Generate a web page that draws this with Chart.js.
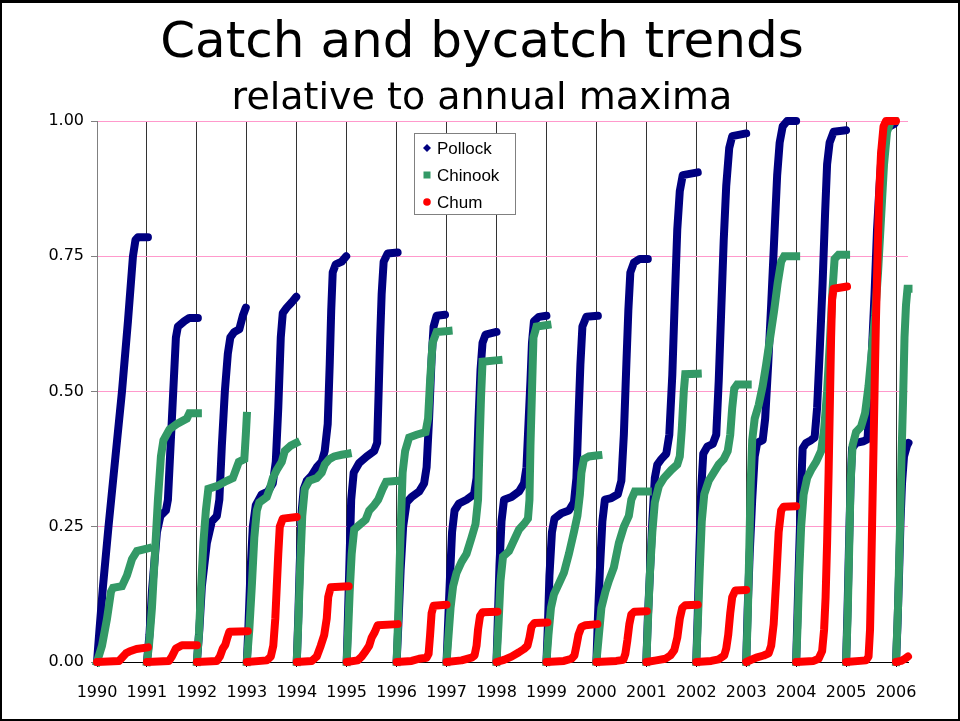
<!DOCTYPE html>
<html>
<head>
<meta charset="utf-8">
<script src="https://cdn.jsdelivr.net/npm/chart.js@4.4.1/dist/chart.umd.min.js"></script>
<style>
  body { margin: 0; background: #fff; }
  #page { position: relative; width: 960px; height: 721px; overflow: hidden; }
  #frame { position: absolute; left: 0; top: 0; width: 960px; height: 721px; box-sizing: border-box;
           border: 2px solid #000; border-top-width: 3px; pointer-events: none; }
  .title { position: absolute; left: 0; width: 960px; text-align: center; color: #000;
           font-family: "Comic Sans MS", "DejaVu Sans", sans-serif; white-space: nowrap; }
  #t1 { top: 10px; left: 2px; font-size: 50px; line-height: 60px; }
  #t2 { top: 74px; left: 2px; font-size: 38px; line-height: 44px; }
  canvas { position: absolute; left: 0; top: 0; }
</style>
</head>
<body>
<div id="page">
  <canvas id="trendChart" width="960" height="721"></canvas>
  <div class="title" id="t1">Catch and bycatch trends</div>
  <div class="title" id="t2">relative to annual maxima</div>
  <div id="frame"></div>
</div>
<script>
// tick labels / categories
const years = [1990, 1991, 1992, 1993, 1994, 1995, 1996, 1997, 1998, 1999, 2000, 2001, 2002, 2003, 2004, 2005, 2006];
const yTicks = [0, 0.25, 0.5, 0.75, 1];
const seriesNames = ['Pollock', 'Chinook', 'Chum'];

// each year: [fraction of year, value relative to annual maximum]
const pollock = [
  [[0,0],[0.05,0.06],[0.12,0.14],[0.23,0.25],[0.37,0.38],[0.5,0.5],[0.62,0.63],[0.72,0.75],[0.77,0.78],[0.82,0.785],[1.02,0.785]],
  [[0,0],[0.05,0.05],[0.1,0.13],[0.2,0.24],[0.27,0.27],[0.38,0.28],[0.42,0.3],[0.5,0.45],[0.58,0.6],[0.62,0.62],[0.75,0.63],[0.85,0.636],[1.02,0.636]],
  [[0,0],[0.05,0.06],[0.1,0.14],[0.2,0.22],[0.3,0.26],[0.4,0.27],[0.45,0.3],[0.5,0.4],[0.56,0.5],[0.62,0.57],[0.67,0.6],[0.75,0.61],[0.85,0.615],[0.92,0.64],[0.98,0.655]],
  [[0,0],[0.03,0.06],[0.07,0.16],[0.12,0.25],[0.18,0.29],[0.3,0.31],[0.42,0.315],[0.52,0.33],[0.58,0.37],[0.63,0.47],[0.68,0.6],[0.72,0.645],[0.8,0.655],[0.9,0.665],[0.99,0.675]],
  [[0,0],[0.03,0.08],[0.06,0.18],[0.1,0.28],[0.14,0.32],[0.2,0.335],[0.3,0.345],[0.4,0.36],[0.5,0.37],[0.56,0.39],[0.62,0.44],[0.66,0.55],[0.69,0.65],[0.72,0.72],[0.78,0.735],[0.9,0.74],[0.99,0.75]],
  [[0,0],[0.03,0.1],[0.06,0.2],[0.09,0.3],[0.14,0.35],[0.25,0.368],[0.4,0.38],[0.55,0.39],[0.61,0.405],[0.64,0.5],[0.67,0.6],[0.7,0.68],[0.74,0.74],[0.82,0.755],[1.02,0.757]],
  [[0,0],[0.04,0.08],[0.08,0.17],[0.13,0.25],[0.2,0.295],[0.3,0.305],[0.45,0.315],[0.55,0.33],[0.6,0.36],[0.65,0.45],[0.7,0.56],[0.74,0.62],[0.8,0.64],[0.97,0.642]],
  [[0,0],[0.03,0.07],[0.07,0.16],[0.11,0.24],[0.16,0.28],[0.25,0.293],[0.4,0.3],[0.55,0.31],[0.6,0.34],[0.64,0.45],[0.68,0.54],[0.72,0.59],[0.78,0.605],[1.0,0.61]],
  [[0,0],[0.03,0.09],[0.06,0.18],[0.1,0.26],[0.15,0.3],[0.3,0.305],[0.45,0.315],[0.55,0.33],[0.6,0.36],[0.64,0.44],[0.68,0.52],[0.71,0.59],[0.75,0.63],[0.85,0.638],[1.0,0.64]],
  [[0,0],[0.03,0.07],[0.06,0.16],[0.11,0.24],[0.16,0.265],[0.3,0.275],[0.45,0.28],[0.55,0.295],[0.6,0.34],[0.64,0.45],[0.68,0.55],[0.72,0.62],[0.8,0.638],[1.03,0.64]],
  [[0,0],[0.03,0.08],[0.07,0.17],[0.12,0.26],[0.17,0.3],[0.3,0.303],[0.43,0.31],[0.5,0.335],[0.55,0.42],[0.6,0.55],[0.64,0.65],[0.68,0.72],[0.75,0.738],[0.87,0.745],[1.03,0.745]],
  [[0,0],[0.03,0.08],[0.07,0.16],[0.12,0.26],[0.17,0.34],[0.22,0.365],[0.3,0.375],[0.4,0.385],[0.46,0.42],[0.52,0.53],[0.57,0.67],[0.62,0.8],[0.67,0.87],[0.73,0.9],[1.03,0.905]],
  [[0,0],[0.03,0.09],[0.06,0.2],[0.1,0.32],[0.14,0.385],[0.22,0.398],[0.33,0.403],[0.4,0.42],[0.45,0.52],[0.5,0.65],[0.55,0.78],[0.6,0.88],[0.66,0.95],[0.72,0.972],[1.0,0.977]],
  [[0,0],[0.03,0.1],[0.07,0.2],[0.12,0.3],[0.17,0.38],[0.22,0.405],[0.33,0.41],[0.38,0.45],[0.44,0.55],[0.5,0.66],[0.56,0.78],[0.62,0.9],[0.67,0.96],[0.73,0.99],[0.82,1.0],[1.0,1.0]],
  [[0,0],[0.03,0.1],[0.06,0.2],[0.1,0.32],[0.13,0.395],[0.2,0.405],[0.3,0.41],[0.37,0.415],[0.42,0.47],[0.47,0.57],[0.53,0.7],[0.58,0.83],[0.62,0.92],[0.67,0.96],[0.75,0.98],[1.0,0.983]],
  [[0,0],[0.03,0.1],[0.06,0.22],[0.09,0.33],[0.12,0.395],[0.2,0.405],[0.35,0.408],[0.43,0.412],[0.47,0.48],[0.52,0.58],[0.57,0.68],[0.62,0.8],[0.67,0.88],[0.72,0.95],[0.78,0.985],[0.97,0.995]],
  [[0,0],[0.03,0.07],[0.06,0.16],[0.09,0.26],[0.12,0.33],[0.16,0.38],[0.22,0.4],[0.25,0.405]]
];

const chinook = [
  [[0,0],[0.1,0.03],[0.2,0.08],[0.28,0.13],[0.32,0.137],[0.5,0.14],[0.6,0.16],[0.7,0.19],[0.8,0.205],[1.02,0.21]],
  [[0,0],[0.04,0.03],[0.1,0.1],[0.16,0.2],[0.22,0.3],[0.28,0.38],[0.33,0.41],[0.45,0.43],[0.6,0.44],[0.8,0.45],[0.85,0.46],[1.02,0.46]],
  [[0,0],[0.04,0.05],[0.08,0.13],[0.13,0.22],[0.18,0.28],[0.23,0.32],[0.4,0.325],[0.6,0.335],[0.72,0.34],[0.8,0.36],[0.84,0.37],[0.95,0.375],[0.98,0.42],[1.0,0.455]],
  [[0,0],[0.05,0.06],[0.1,0.14],[0.15,0.23],[0.2,0.28],[0.25,0.295],[0.4,0.305],[0.46,0.32],[0.52,0.34],[0.6,0.355],[0.7,0.37],[0.76,0.39],[0.88,0.4],[0.99,0.405]],
  [[0,0],[0.03,0.07],[0.07,0.18],[0.11,0.27],[0.16,0.32],[0.25,0.335],[0.4,0.34],[0.5,0.35],[0.56,0.365],[0.65,0.375],[0.75,0.38],[0.9,0.383],[1.02,0.385]],
  [[0,0],[0.03,0.06],[0.06,0.13],[0.1,0.2],[0.15,0.245],[0.25,0.253],[0.38,0.263],[0.45,0.28],[0.55,0.29],[0.63,0.3],[0.72,0.32],[0.79,0.333],[1.04,0.335]],
  [[0,0],[0.03,0.08],[0.06,0.18],[0.09,0.27],[0.12,0.35],[0.17,0.39],[0.25,0.415],[0.4,0.42],[0.58,0.425],[0.63,0.45],[0.67,0.52],[0.72,0.59],[0.8,0.61],[1.04,0.612]],
  [[0,0],[0.04,0.05],[0.08,0.1],[0.13,0.14],[0.2,0.165],[0.3,0.185],[0.4,0.2],[0.5,0.23],[0.58,0.255],[0.63,0.3],[0.66,0.4],[0.69,0.49],[0.72,0.555],[1.04,0.558]],
  [[0,0],[0.04,0.07],[0.08,0.15],[0.13,0.195],[0.25,0.205],[0.35,0.225],[0.45,0.245],[0.55,0.255],[0.63,0.265],[0.66,0.3],[0.68,0.4],[0.71,0.5],[0.74,0.6],[0.8,0.62],[1.02,0.623]],
  [[0,0],[0.04,0.05],[0.09,0.1],[0.15,0.125],[0.25,0.145],[0.35,0.165],[0.45,0.2],[0.55,0.24],[0.62,0.27],[0.67,0.31],[0.7,0.35],[0.75,0.375],[0.85,0.38],[1.04,0.382]],
  [[0,0],[0.04,0.04],[0.1,0.1],[0.18,0.13],[0.25,0.15],[0.35,0.175],[0.45,0.22],[0.55,0.25],[0.65,0.27],[0.7,0.3],[0.77,0.315],[1.03,0.315]],
  [[0,0],[0.03,0.07],[0.07,0.16],[0.12,0.24],[0.17,0.295],[0.25,0.325],[0.35,0.34],[0.5,0.355],[0.62,0.365],[0.67,0.38],[0.71,0.43],[0.75,0.5],[0.78,0.532],[1.03,0.533]],
  [[0,0],[0.03,0.07],[0.07,0.17],[0.11,0.26],[0.16,0.31],[0.25,0.335],[0.35,0.35],[0.45,0.365],[0.55,0.375],[0.63,0.39],[0.68,0.42],[0.72,0.47],[0.76,0.505],[0.82,0.513],[1.03,0.513]],
  [[0,0],[0.03,0.08],[0.06,0.2],[0.09,0.33],[0.12,0.41],[0.17,0.45],[0.25,0.475],[0.33,0.51],[0.4,0.55],[0.48,0.6],[0.56,0.65],[0.63,0.7],[0.7,0.74],[0.76,0.75],[1.0,0.75]],
  [[0,0],[0.03,0.07],[0.06,0.16],[0.1,0.25],[0.15,0.31],[0.22,0.34],[0.3,0.355],[0.4,0.37],[0.5,0.39],[0.56,0.43],[0.62,0.5],[0.68,0.6],[0.73,0.69],[0.77,0.745],[0.85,0.753],[1.0,0.753]],
  [[0,0],[0.03,0.08],[0.06,0.2],[0.09,0.33],[0.13,0.4],[0.2,0.425],[0.3,0.435],[0.38,0.46],[0.45,0.51],[0.52,0.58],[0.58,0.64],[0.64,0.72],[0.7,0.82],[0.76,0.92],[0.82,0.98],[0.9,1.0],[0.97,1.0]],
  [[0,0],[0.04,0.1],[0.08,0.25],[0.11,0.38],[0.14,0.48],[0.17,0.6],[0.2,0.66],[0.23,0.69],[0.25,0.69]]
];

const chum = [
  [[0,0],[0.44,0.002],[0.5,0.008],[0.58,0.016],[0.66,0.02],[0.79,0.024],[1.02,0.027]],
  [[0,0],[0.44,0.002],[0.5,0.01],[0.58,0.025],[0.7,0.031],[1.0,0.031]],
  [[0,0],[0.4,0.002],[0.46,0.01],[0.52,0.025],[0.57,0.032],[0.61,0.045],[0.65,0.056],[1.02,0.057]],
  [[0,0],[0.4,0.003],[0.48,0.01],[0.53,0.03],[0.57,0.08],[0.6,0.14],[0.63,0.2],[0.66,0.25],[0.72,0.265],[1.0,0.268]],
  [[0,0],[0.3,0.002],[0.4,0.01],[0.48,0.03],[0.55,0.05],[0.6,0.08],[0.63,0.12],[0.68,0.138],[1.04,0.14]],
  [[0,0],[0.22,0.003],[0.3,0.01],[0.38,0.02],[0.45,0.03],[0.5,0.045],[0.56,0.055],[0.62,0.068],[1.02,0.07]],
  [[0,0],[0.3,0.002],[0.45,0.006],[0.6,0.008],[0.64,0.015],[0.67,0.05],[0.7,0.09],[0.74,0.104],[1.0,0.106]],
  [[0,0],[0.3,0.003],[0.5,0.008],[0.56,0.012],[0.6,0.03],[0.63,0.06],[0.67,0.085],[0.72,0.092],[1.02,0.093]],
  [[0,0],[0.15,0.004],[0.3,0.01],[0.45,0.018],[0.55,0.024],[0.62,0.03],[0.66,0.045],[0.7,0.065],[0.76,0.072],[1.02,0.073]],
  [[0,0],[0.35,0.002],[0.5,0.006],[0.56,0.012],[0.6,0.03],[0.64,0.05],[0.7,0.065],[0.78,0.068],[1.02,0.07]],
  [[0,0],[0.4,0.002],[0.54,0.004],[0.58,0.015],[0.62,0.04],[0.66,0.07],[0.7,0.088],[0.76,0.093],[1.01,0.094]],
  [[0,0],[0.2,0.003],[0.38,0.006],[0.48,0.012],[0.56,0.022],[0.62,0.045],[0.67,0.08],[0.72,0.1],[0.78,0.105],[1.03,0.106]],
  [[0,0],[0.3,0.002],[0.45,0.005],[0.56,0.012],[0.6,0.025],[0.64,0.05],[0.68,0.09],[0.72,0.12],[0.78,0.132],[1.0,0.133]],
  [[0,0],[0.2,0.008],[0.35,0.012],[0.45,0.016],[0.5,0.03],[0.55,0.07],[0.6,0.15],[0.65,0.24],[0.7,0.28],[0.75,0.287],[1.0,0.288]],
  [[0,0],[0.35,0.002],[0.45,0.006],[0.52,0.02],[0.56,0.06],[0.59,0.12],[0.62,0.22],[0.65,0.35],[0.68,0.5],[0.7,0.6],[0.72,0.67],[0.75,0.69],[1.02,0.694]],
  [[0,0],[0.4,0.003],[0.45,0.01],[0.48,0.06],[0.5,0.15],[0.52,0.25],[0.54,0.35],[0.56,0.45],[0.58,0.55],[0.6,0.64],[0.63,0.75],[0.66,0.86],[0.7,0.94],[0.75,0.99],[0.8,1.0],[1.0,1.0]],
  [[0,0],[0.1,0.002],[0.18,0.006],[0.24,0.01]]
];

document.addEventListener('DOMContentLoaded', function() {
    const ctx = document.getElementById('trendChart');

    // one line per year, broken with a null point between years
    function toPoints(segments) {
        const pts = [];
        segments.forEach((seg, i) => {
            seg.forEach(p => pts.push({ x: years[i] + p[0], y: p[1] }));
            pts.push({ x: years[i] + seg[seg.length - 1][0], y: null });
        });
        return pts;
    }

    const markers = ['rectRot', 'rect', 'circle'];
    const colors = ['#000080', '#339966', '#ff0000'];

    // legend box drawn inside the plot, like the original
    const legendBox = {
        id: 'legendBox',
        afterDraw(chart) {
            const c = chart.ctx;
            c.save();
            c.fillStyle = '#fff';
            c.fillRect(414.5, 133.5, 101, 81);
            c.strokeStyle = '#808080';
            c.lineWidth = 1;
            c.strokeRect(414.5, 133.5, 101, 81);
            const rows = [148, 175, 202];
            seriesNames.forEach((name, i) => {
                const y = rows[i];
                c.fillStyle = colors[i];
                if (markers[i] === 'rectRot') {
                    c.beginPath();
                    c.moveTo(427, y - 4); c.lineTo(431, y); c.lineTo(427, y + 4); c.lineTo(423, y);
                    c.closePath(); c.fill();
                } else if (markers[i] === 'rect') {
                    c.fillRect(423.5, y - 3.5, 7, 7);
                } else {
                    c.beginPath(); c.arc(427, y, 3.8, 0, Math.PI * 2); c.fill();
                }
                c.fillStyle = '#000';
                c.font = '17px "Liberation Sans", Arial, sans-serif';
                c.textBaseline = 'middle';
                c.fillText(name, 437, y + 1);
            });
            c.restore();
        }
    };

    const chartData = {
        datasets: [
            {
                label: seriesNames[0],
                data: toPoints(pollock),
                borderColor: colors[0],
                backgroundColor: colors[0],
                borderWidth: 8,
                borderCapStyle: 'round',
                borderJoinStyle: 'round',
                pointRadius: 0,
                order: 3
            },
            {
                label: seriesNames[1],
                data: toPoints(chinook),
                borderColor: colors[1],
                backgroundColor: colors[1],
                borderWidth: 8,
                borderCapStyle: 'square',
                borderJoinStyle: 'miter',
                pointRadius: 0,
                order: 2
            },
            {
                label: seriesNames[2],
                data: toPoints(chum),
                borderColor: colors[2],
                backgroundColor: colors[2],
                borderWidth: 8,
                borderCapStyle: 'round',
                borderJoinStyle: 'round',
                pointRadius: 0,
                order: 1
            }
        ]
    };

    new Chart(ctx, {
        type: 'line',
        data: chartData,
        plugins: [legendBox],
        options: {
            responsive: false,
            animation: false,
            events: [],
            spanGaps: false,
            clip: false,
            layout: { padding: { top: 121, left: 0, right: 52, bottom: 0 } },
            elements: { line: { tension: 0 } },
            plugins: {
                legend: { display: false },
                tooltip: { enabled: false },
                title: { display: false }
            },
            scales: {
                x: {
                    type: 'linear',
                    min: 1990,
                    max: 2006.24,
                    afterFit: s => { s.height = 59; },
                    afterBuildTicks: s => { s.ticks = years.map(v => ({ value: v })); },
                    grid: { color: '#333', lineWidth: 1, tickLength: 5, tickColor: '#000' },
                    border: { color: '#000', width: 1 },
                    ticks: {
                        autoSkip: false,
                        maxRotation: 0,
                        padding: 16,
                        color: '#000',
                        font: { family: '"DejaVu Sans", sans-serif', size: 16 },
                        callback: v => String(v)
                    }
                },
                y: {
                    min: 0,
                    max: 1,
                    afterFit: s => { s.width = 97; },
                    afterBuildTicks: s => { s.ticks = yTicks.map(v => ({ value: v })); },
                    grid: {
                        color: c => c.tick && c.tick.value === 0 ? 'rgba(0,0,0,0)' : '#ff99cc',
                        lineWidth: 1,
                        tickLength: 6,
                        tickColor: '#808080'
                    },
                    border: { color: '#808080', width: 1 },
                    ticks: {
                        padding: 7,
                        color: '#000',
                        font: { family: '"DejaVu Sans", sans-serif', size: 16 },
                        callback: v => v.toFixed(2)
                    }
                }
            }
        }
    });
});
</script>
</body>
</html>
